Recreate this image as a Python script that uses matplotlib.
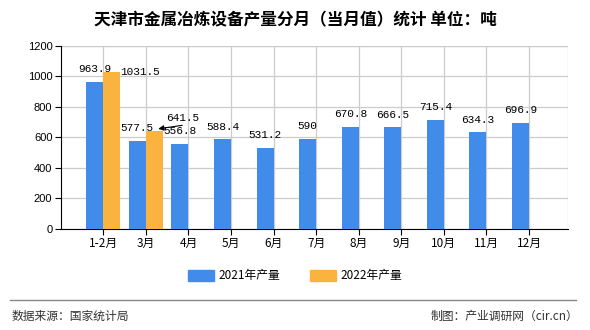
import numpy as np
import matplotlib.pyplot as plt
from matplotlib.patches import Rectangle
from matplotlib.lines import Line2D

plt.rcParams['font.family'] = ['Noto Sans CJK SC', 'DejaVu Sans']

months = ["1-2月", "3月", "4月", "5月", "6月", "7月", "8月", "9月", "10月", "11月", "12月"]
vals_2021 = [963.9, 577.5, 556.8, 588.4, 531.2, 590, 670.8, 666.5, 715.4, 634.3, 696.9]
vals_2022 = [1031.5, 641.5]
labels_2021 = ["963.9", "577.5", "556.8", "588.4", "531.2", "590", "670.8", "666.5", "715.4", "634.3", "696.9"]
labels_2022 = ["1031.5", "641.5"]
series_names = ["2021年产量", "2022年产量"]
yticks = [0, 200, 400, 600, 800, 1000, 1200]

blue = "#418BEB"
orange = "#FBB33F"
mono = "Liberation Mono"

fig = plt.figure(figsize=(5.9, 3.3), dpi=100)
ax = fig.add_axes([0.103, 0.306, 0.86, 0.555])

x = np.arange(len(months))
w = 0.4
ax.bar(x - w / 2, vals_2021, width=w, color=blue, zorder=3)
ax.bar(x[:len(vals_2022)] + w / 2, vals_2022, width=w, color=orange, zorder=3)

ax.set_xlim(-1, 10.92)
ax.set_ylim(0, 1200)
ax.set_yticks(yticks)
ax.set_xticks(x)
ax.set_xticklabels(months, fontsize=8.5)
ax.tick_params(axis='y', labelsize=8, length=4, pad=2)
ax.tick_params(axis='x', length=4, pad=2)
for t in ax.get_yticklabels():
    t.set_family("Liberation Sans")

ax.grid(True, color="#CCCCCC", lw=0.9, zorder=0)
ax.set_axisbelow(True)
for s in ["top", "right"]:
    ax.spines[s].set_visible(False)
ax.axvline(10.92, color="#CCCCCC", lw=0.9, zorder=0)
ax.axhline(1200, color="#CCCCCC", lw=0.9, zorder=0)

# data labels 2021
for i, (v, lab) in enumerate(zip(vals_2021, labels_2021)):
    ax.annotate(lab, xy=(i - w / 2, v), xytext=(0, 5.5), textcoords="offset points",
                ha="center", va="bottom", fontsize=8, family=mono, zorder=5)

# 2022 labels
ax.annotate(labels_2022[0], xy=(0 + w, vals_2022[0]), xytext=(0, 0), textcoords="offset points",
            ha="left", va="center", fontsize=8, family=mono, zorder=5)
ax.annotate(labels_2022[1], xy=(1.29, vals_2022[1] + 15), xytext=(6, 4.5),
            textcoords="offset points", ha="left", va="bottom", fontsize=8, family=mono, zorder=5,
            arrowprops=dict(arrowstyle="-|>", color="black", lw=0.8, mutation_scale=8,
                            shrinkA=0, shrinkB=0, relpos=(1.05, 0)))

fig.text(0.5, 1 - 20 / 330, "天津市金属冶炼设备产量分月（当月值）统计 单位：吨",
         ha="center", va="center", fontsize=12, fontweight="bold")

# legend
handles = [Rectangle((0, 0), 1, 1, color=blue), Rectangle((0, 0), 1, 1, color=orange)]
fig.legend(handles, series_names, loc="center", bbox_to_anchor=(0.5, 1 - 276 / 330),
           ncol=2, frameon=False, fontsize=8.5, handlelength=2.2, handleheight=1.0,
           columnspacing=2.5, handletextpad=0.4)

# footer
fig.add_artist(Line2D([10 / 590, 576 / 590], [1 - 300 / 330, 1 - 300 / 330],
                      color="#888888", lw=1, transform=fig.transFigure))
fig.text(12 / 590, 1 - 316 / 330, "数据来源：国家统计局", ha="left", va="center",
         fontsize=8.5, color="#333333")
fig.text(578 / 590, 1 - 316 / 330, "制图：产业调研网（cir.cn）", ha="right", va="center",
         fontsize=8.5, color="#333333")

fig.savefig("out.png", dpi=100)
